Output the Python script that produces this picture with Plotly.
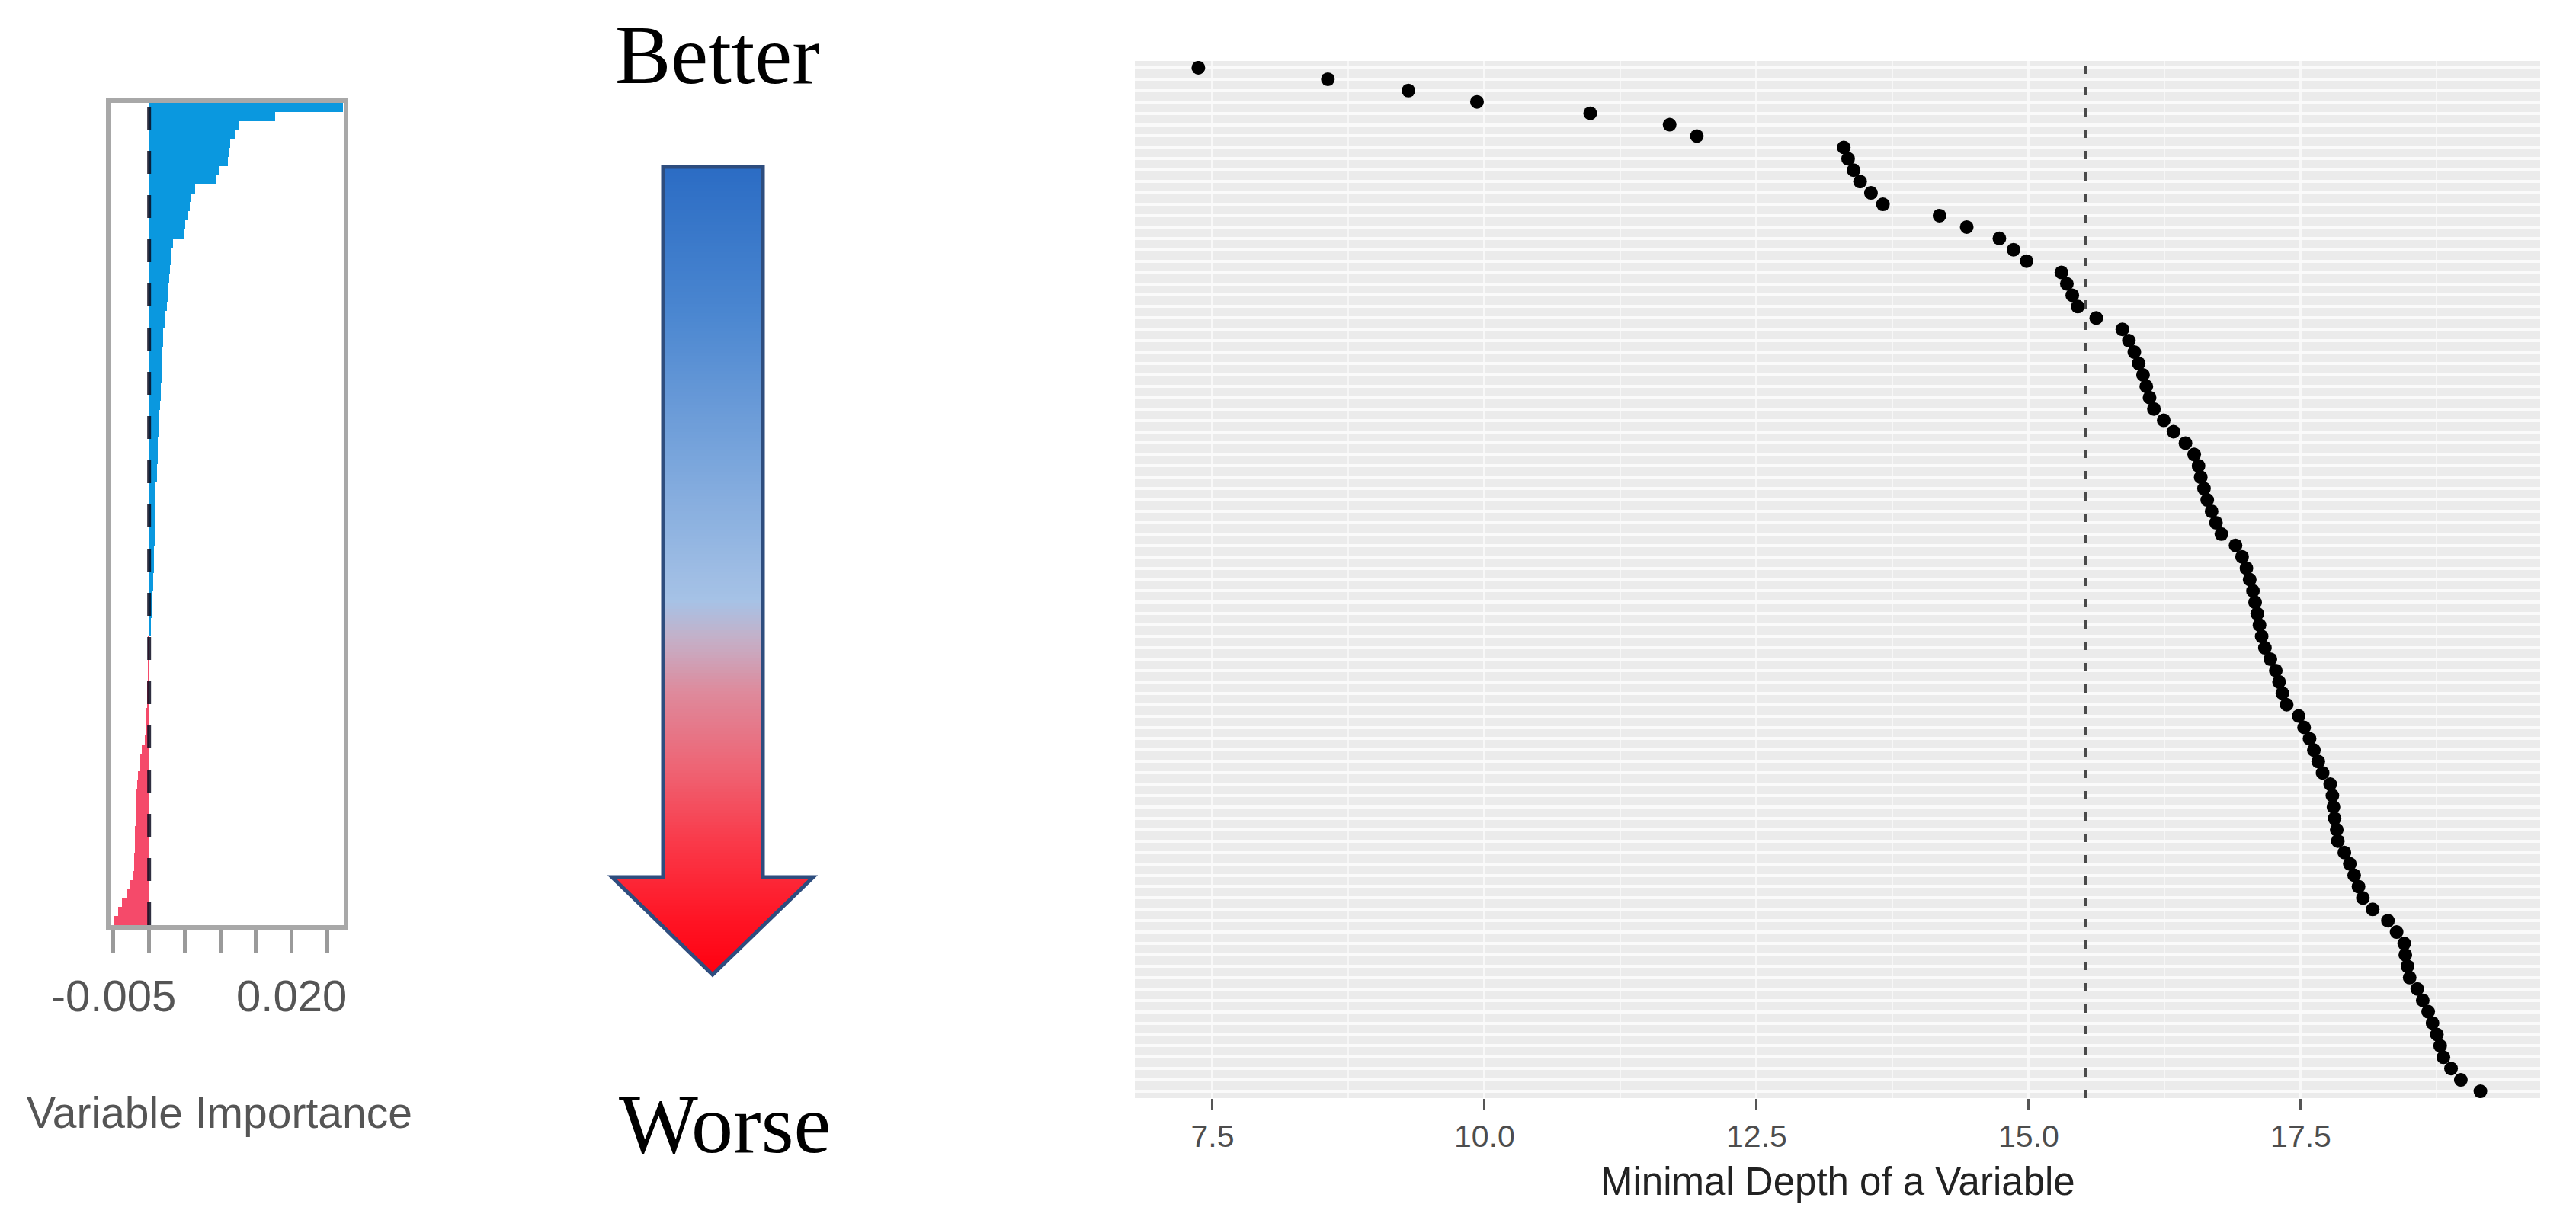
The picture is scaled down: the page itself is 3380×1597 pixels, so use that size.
import plotly.graph_objects as go

W, H = 3380, 1597

# ---------------- data ----------------
# Left panel: sorted variable importance (one bar per variable, top to bottom)
importance = [
    0.0272, 0.0177, 0.0126, 0.0120, 0.0114, 0.0113, 0.0111, 0.0099, 0.0095, 0.0064,
    0.0058, 0.0057, 0.0055, 0.0051, 0.0049, 0.0034, 0.0031, 0.0030, 0.0029, 0.0028,
    0.0026, 0.0026, 0.0025, 0.0022, 0.0022, 0.0020, 0.0020, 0.0019, 0.0019, 0.0017,
    0.0017, 0.0016, 0.0016, 0.0015, 0.0013, 0.0013, 0.0013, 0.0012, 0.0012, 0.0012,
    0.0011, 0.0011, 0.0009, 0.0009, 0.0009, 0.0008, 0.0008, 0.0008, 0.0008, 0.0007,
    0.0007, 0.0007, 0.0006, 0.0006, 0.0005, 0.0005, 0.0004, 0.0003, 0.0002,
    -0.0001, -0.0001, -0.0002, -0.0002, -0.0002, -0.0003, -0.0003, -0.0003, -0.0004, -0.0004,
    -0.0005, -0.0006, -0.0010, -0.0012, -0.0013,
    -0.0016, -0.0017, -0.0018, -0.0018, -0.0019, -0.0019, -0.0020, -0.0020, -0.0020, -0.0021,
    -0.0021, -0.0023, -0.0027, -0.0032, -0.0038, -0.0044, -0.0050,
]

# Right panel: minimal depth of each variable (same ordering, top to bottom)
min_depth = [
    7.37, 8.56, 9.30, 9.93, 10.97, 11.70, 11.95, 13.30, 13.34, 13.39,
    13.45, 13.55, 13.66, 14.18, 14.43, 14.73, 14.86, 14.98, 15.30, 15.35,
    15.40, 15.45, 15.62, 15.86, 15.92, 15.97, 16.01, 16.05, 16.08, 16.11,
    16.15, 16.24, 16.33, 16.44, 16.52, 16.56, 16.58, 16.61, 16.64, 16.68,
    16.72, 16.77, 16.90, 16.96, 17.00, 17.03, 17.06, 17.08, 17.10, 17.12,
    17.14, 17.17, 17.22, 17.27, 17.30, 17.33, 17.37, 17.48, 17.53, 17.58,
    17.62, 17.66, 17.70, 17.77, 17.79, 17.80, 17.81, 17.83, 17.84, 17.90,
    17.95, 17.99, 18.03, 18.07, 18.16, 18.30, 18.38, 18.45, 18.46, 18.48,
    18.50, 18.57, 18.62, 18.67, 18.71, 18.75, 18.78, 18.81, 18.88, 18.97,
    19.15,
]
depth_threshold = 15.52

imp_ticks = [-0.005, 0.0, 0.005, 0.010, 0.015, 0.020, 0.025]
imp_tick_text = ["-0.005", "", "", "", "", "0.020", ""]
depth_ticks = [7.5, 10.0, 12.5, 15.0, 17.5]
depth_tick_text = ["7.5", "10.0", "12.5", "15.0", "17.5"]
depth_minor = [8.75, 11.25, 13.75, 16.25, 18.75]

rows = list(range(1, len(min_depth) + 1))
n = len(rows)

FONT = "Liberation Sans, Arial, sans-serif"
SERIF = "Liberation Serif, Times New Roman, serif"


def px(x):
    return x / W


def py(y):
    return 1 - y / H


fig = go.Figure()

bar_colors = ["#0A98DF" if v >= 0 else "#F54A6A" for v in importance]
fig.add_trace(go.Bar(
    x=importance, y=rows, orientation="h",
    marker=dict(color=bar_colors, line=dict(width=0)),
    xaxis="x", yaxis="y", showlegend=False, hoverinfo="x",
))

fig.add_trace(go.Scatter(
    x=min_depth, y=rows, mode="markers",
    marker=dict(color="black", size=18, line=dict(width=0)),
    xaxis="x2", yaxis="y2", showlegend=False,
))

shapes = []
# gray ggplot panel background
shapes.append(dict(type="rect", xref="x2 domain", yref="y2 domain", x0=0, x1=1, y0=0, y1=1,
                   fillcolor="#EBEBEB", line=dict(width=0), layer="below"))
# zero line on importance panel
shapes.append(dict(type="line", xref="x", yref="y domain", x0=0, x1=0, y0=0, y1=1,
                   line=dict(color="rgba(10,10,30,0.85)", width=5, dash="30px,28px"), layer="above"))
# threshold line on depth panel
shapes.append(dict(type="line", xref="x2", yref="y2 domain", x0=depth_threshold, x1=depth_threshold,
                   y0=0, y1=1, line=dict(color="#4A4A4A", width=4, dash="11px,17px"), layer="above"))

# ---------------- gradient arrow (decoration) ----------------
stops = [(211, (43, 108, 196)), (400, (74, 134, 208)), (600, (123, 166, 220)),
         (780, (166, 194, 230)), (830, (196, 176, 200)), (900, (222, 138, 156)),
         (1000, (238, 100, 116)), (1100, (250, 56, 72)), (1200, (255, 20, 36)),
         (1271, (255, 0, 16))]


def grad(y):
    for (ya, ca), (yb, cb) in zip(stops[:-1], stops[1:]):
        if ya <= y <= yb:
            t = (y - ya) / (yb - ya)
            c = [round(ca[i] + (cb[i] - ca[i]) * t) for i in range(3)]
            return "rgb(%d,%d,%d)" % tuple(c)
    c = stops[-1][1] if y > stops[-1][0] else stops[0][1]
    return "rgb(%d,%d,%d)" % c


sx0, sx1 = 862, 993
top, neck, tip = 211, 1143, 1271
cx, half_head = 927, 132
step = 4
y = top
while y < neck:
    y2 = min(y + step, neck)
    shapes.append(dict(type="rect", xref="paper", yref="paper",
                       x0=px(sx0), x1=px(sx1), y0=py(y2 + 0.6), y1=py(y),
                       fillcolor=grad(y + step / 2), line=dict(width=0), layer="above"))
    y = y2
y = neck
step = 2
while y < tip:
    y2 = min(y + step, tip)
    h1 = half_head * (tip - y) / (tip - neck)
    h2 = half_head * (tip - y2 - 0.6) / (tip - neck)
    h2 = max(h2, 0)
    path = "M %f,%f L %f,%f L %f,%f L %f,%f Z" % (
        px(cx - h1), py(y), px(cx + h1), py(y), px(cx + h2), py(y2 + 0.6), px(cx - h2), py(y2 + 0.6))
    shapes.append(dict(type="path", xref="paper", yref="paper", path=path,
                       fillcolor=grad(y + step / 2), line=dict(width=0), layer="above"))
    y = y2
outline = "M %f,%f L %f,%f L %f,%f L %f,%f L %f,%f L %f,%f L %f,%f Z" % (
    px(sx0), py(top), px(sx1), py(top), px(sx1), py(neck), px(cx + half_head), py(neck),
    px(cx), py(tip), px(cx - half_head), py(neck), px(sx0), py(neck))
shapes.append(dict(type="path", xref="paper", yref="paper", path=outline,
                   line=dict(color="#2E4D7E", width=5), fillcolor="rgba(0,0,0,0)", layer="above"))

annotations = [
    dict(text="Better", x=px(934), y=py(64), xref="paper", yref="paper", showarrow=False,
         xanchor="center", yanchor="middle", font=dict(family=SERIF, size=110, color="black")),
    dict(text="Worse", x=px(943), y=py(1467), xref="paper", yref="paper", showarrow=False,
         xanchor="center", yanchor="middle", font=dict(family=SERIF, size=110, color="black")),
    dict(text="Variable Importance", x=px(280), y=py(1452), xref="paper", yref="paper",
         showarrow=False, xanchor="center", yanchor="middle",
         font=dict(family=FONT, size=57, color="#555555")),
    dict(text="Minimal Depth of a Variable", x=px(2403), y=py(1542), xref="paper", yref="paper",
         showarrow=False, xanchor="center", yanchor="middle",
         font=dict(family=FONT, size=51, color="#222222")),
]

fig.update_layout(
    width=W, height=H,
    margin=dict(l=0, r=0, t=0, b=0, pad=0, autoexpand=False),
    paper_bgcolor="white", plot_bgcolor="rgba(0,0,0,0)",
    bargap=0, showlegend=False,
    shapes=shapes, annotations=annotations,
    font=dict(family=FONT),
    xaxis=dict(domain=[px(137), px(443)], range=[-0.00542, 0.02731], anchor="y",
               automargin=False,
               tickvals=imp_ticks, ticktext=imp_tick_text, ticks="outside", ticklen=31,
               tickwidth=5, tickcolor="#9A9A9A", showline=True, mirror=True,
               linecolor="#A8A8A8", linewidth=6, showgrid=False, zeroline=False,
               ticklabelstandoff=6,
               tickfont=dict(family=FONT, size=58, color="#555555")),
    yaxis=dict(domain=[py(1206), py(127)], range=[n + 0.5, 0.5], anchor="x",
               automargin=False,
               showticklabels=False, ticks="", showgrid=False, showline=True, mirror=True,
               linecolor="#A8A8A8", linewidth=6, zeroline=False),
    xaxis2=dict(domain=[px(1481), px(3325)], range=[6.786, 19.699], anchor="y2",
                automargin=False,
                tickvals=depth_ticks, ticktext=depth_tick_text, ticks="outside", ticklen=14,
                tickwidth=3, tickcolor="#555555", showgrid=True, gridcolor="#F8F8F8", gridwidth=2.5,
                zeroline=False, showline=False,
                minor=dict(tickvals=depth_minor, showgrid=True, gridcolor="#F6F6F6", gridwidth=1.5,
                           ticks=""),
                tickfont=dict(family=FONT, size=41, color="#4D4D4D")),
    yaxis2=dict(domain=[py(1433), py(72)], range=[n + 0.6, 0.4], anchor="x2",
                automargin=False,
                tickvals=rows, showticklabels=False, ticks="", showgrid=True,
                gridcolor="#FAFAFA", gridwidth=3.5, zeroline=False, showline=False),
)

fig.write_html("out.html")
